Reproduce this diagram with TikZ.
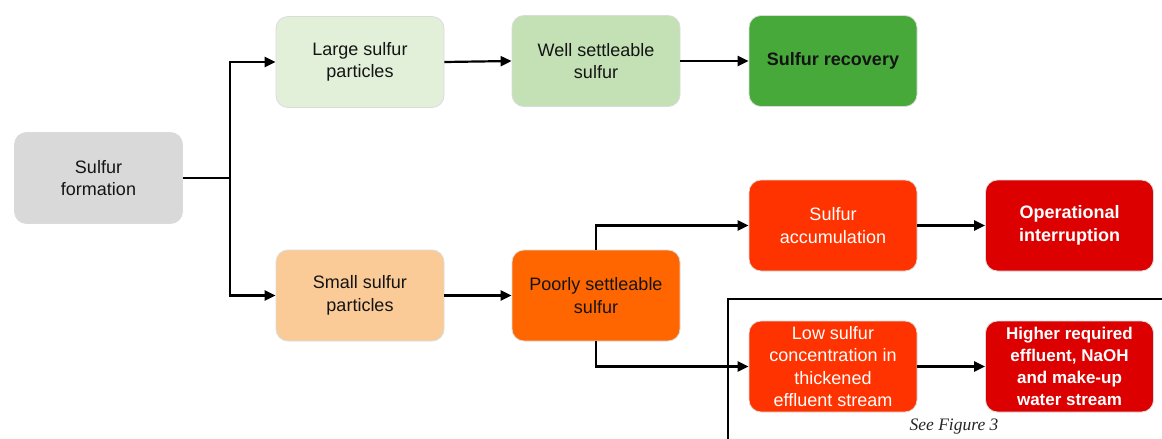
\documentclass[tikz,border=0pt]{standalone}
\usepackage{fontspec}
\setmainfont{Liberation Sans}
\newfontfamily\seriffont{Liberation Serif}
\usetikzlibrary{arrows.meta}
\definecolor{cform}{HTML}{D9D9D9}
\definecolor{clarge}{HTML}{E2F0D9}
\definecolor{cwell}{HTML}{C3E1B5}
\definecolor{crec}{HTML}{46A93A}
\definecolor{csmall}{HTML}{FBCB97}
\definecolor{cpoor}{HTML}{FF6600}
\definecolor{cacc}{HTML}{FF3300}
\definecolor{coper}{HTML}{DC0000}
\tikzset{
  box/.style={rounded corners=12pt, minimum width=168pt, minimum height=91pt,
    align=center, inner sep=2pt, draw=black!14, line width=0.8pt,
    font=\fontsize{18}{22.5}\selectfont, text=black!92},
  wbox/.style={box, text=white},
  arr/.style={line width=2.2pt, -{Triangle[length=11pt,width=10pt]}},
  ln/.style={line width=2.2pt},
}
\begin{document}
\begin{tikzpicture}[x=1pt,y=-1pt]
\useasboundingbox (0,0) rectangle (1162,439);
\node[box, fill=cform] (form) at (98.5,178) {Sulfur\\formation};
\node[box, fill=clarge] (large) at (360,62) {Large sulfur\\particles};
\node[box, fill=cwell] (well) at (596,61) {Well settleable\\sulfur};
\node[box, fill=crec, font=\fontsize{18}{22.5}\selectfont\bfseries] (rec) at (833,61) {Sulfur recovery};
\node[box, fill=csmall] (small) at (360,295.5) {Small sulfur\\particles};
\node[box, fill=cpoor] (poor) at (596,295.5) {Poorly settleable\\sulfur};
\node[wbox, fill=cacc] (acc) at (833,225.5) {Sulfur\\accumulation};
\node[wbox, fill=coper, font=\fontsize{18}{22.5}\selectfont\bfseries] (oper) at (1069.5,225.5) {Operational\\interruption};
\node[wbox, fill=cacc] (low) at (833,366.5) {Low sulfur\\concentration in\\thickened\\effluent stream};
\node[wbox, fill=coper, font=\fontsize{17}{22}\selectfont\bfseries] (high) at (1069.5,366.5) {Higher required\\effluent, NaOH\\and make-up\\water stream};
\node[font=\fontsize{17.5}{20}\selectfont\seriffont\itshape, text=black!85] (see) at (954,427) {See Figure 3};
\coordinate (split) at (230,178);
\draw[ln] (form.east) -- (split);
\draw[arr] (split) |- (large.west);
\draw[arr] (split) |- (small.west);
\draw[arr] (large.east) -- (well.west);
\draw[arr] (well.east) -- (rec.west);
\draw[arr] (small.east) -- (poor.west);
\draw[arr] (poor.north) |- (acc.west);
\draw[arr] (poor.south) |- (low.west);
\draw[arr] (acc.east) -- (oper.west);
\draw[arr] (low.east) -- (high.west);
\coordinate (fb) at (728,440);
\coordinate (fc) at (728,299);
\coordinate (fr) at (1163,299);
\draw[line width=2.2pt] (fb) -- (fc) -- (fr);
\end{tikzpicture}
\end{document}
